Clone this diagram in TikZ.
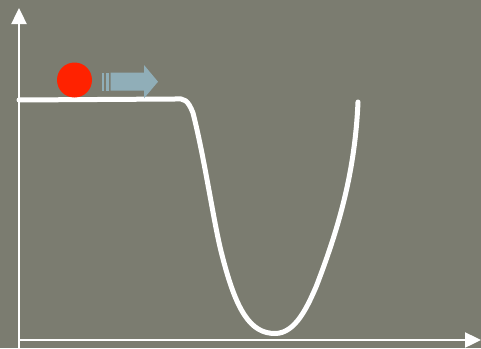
\documentclass[tikz,border=0pt]{standalone}
\usetikzlibrary{arrows.meta}
\definecolor{bg}{RGB}{123,124,112}
\definecolor{ballred}{RGB}{255,34,0}
\definecolor{arrowblue}{RGB}{144,174,184}
\begin{document}
\begin{tikzpicture}[x=1pt,y=-1pt,
  axis/.style={white,line width=2.4pt,-{Triangle[length=16pt,width=15pt]}},
  curve/.style={white,line width=5pt,line cap=round,line join=round}]
\fill[bg] (0,0) rectangle (481,348);
\useasboundingbox (0,0) rectangle (481,348);
% axes
\coordinate (o) at (19,340);
\coordinate (ytip) at (19,8);
\coordinate (xtip) at (481,340);
\draw[axis] (19,348) -- (ytip);
\draw[axis] (o) -- (xtip);
% curve
\draw[curve] (19,100) -- (175,99)
  .. controls (184,98) and (188,100) .. (193,113)
  .. controls (205,160) and (214,225) .. (222,255)
  .. controls (236,310) and (250,333.5) .. (275,333.5)
  .. controls (296,333.5) and (308,305) .. (316,287)
  .. controls (340,225) and (355,170) .. (358,102);
% ball
\node[circle,fill=ballred,minimum size=35pt,inner sep=0pt] (ball) at (74.5,80) {};
% arrow
\fill[arrowblue] (101.7,72.7) rectangle (104,90.7);
\fill[arrowblue] (105.5,72.7) rectangle (108.5,90.7);
\fill[arrowblue] (110.7,72.7) -- (144,72.7) -- (144,65) -- (158,81.7) -- (144,98.3) -- (144,90.7) -- (110.7,90.7) -- cycle;
\end{tikzpicture}
\end{document}
